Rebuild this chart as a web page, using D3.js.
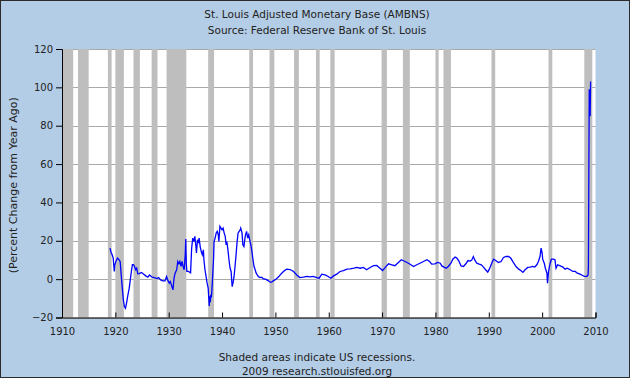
<!DOCTYPE html>
<html>
<head>
<meta charset="utf-8">
<script src="https://cdn.jsdelivr.net/npm/d3@7"></script>
<style>
body { margin: 0; }
text { font-family: "DejaVu Sans", Verdana, sans-serif; fill: #222; }
</style>
</head>
<body>
<svg id="chart"></svg>
<script>
// recession periods (decimal years)
var recStart = [1910.0, 1913.0, 1918.6, 1920.0, 1923.4, 1926.8, 1929.6, 1937.4, 1945.1, 1948.9, 1953.5, 1957.6, 1960.3, 1969.9, 1973.9, 1980.0, 1981.5, 1990.5, 2001.2, 2007.9];
var recEnd   = [1912.1, 1915.0, 1919.3, 1921.6, 1924.6, 1927.9, 1933.3, 1938.5, 1945.8, 1949.8, 1954.4, 1958.3, 1961.1, 1970.9, 1975.2, 1980.6, 1982.9, 1991.2, 2001.9, 2009.4];

// AMBNS, percent change from year ago
var years = [1919.0, 1919.2, 1919.4, 1919.6, 1919.8, 1919.9, 1920.1, 1920.4, 1920.6, 1920.9,
  1921.1, 1921.3, 1921.5, 1921.7, 1921.9, 1922.1, 1922.3, 1922.6, 1922.8, 1923.0,
  1923.2, 1923.4, 1923.6, 1923.8, 1924.0, 1924.2, 1924.5, 1924.9, 1925.2, 1925.7,
  1926.1, 1926.4, 1926.9, 1927.3, 1927.8, 1928.1, 1928.5, 1928.9, 1929.3, 1929.6,
  1929.8, 1930.1, 1930.3, 1930.5, 1930.8, 1931.0, 1931.2, 1931.5, 1931.7, 1931.9,
  1932.1, 1932.3, 1932.5, 1932.7, 1932.9, 1933.1, 1933.2, 1933.3, 1933.4, 1933.7,
  1934.1, 1934.3, 1934.5, 1934.7, 1934.9, 1935.1, 1935.2, 1935.4, 1935.6, 1935.7,
  1935.9, 1936.1, 1936.3, 1936.5, 1936.6, 1936.8, 1937.0, 1937.2, 1937.4, 1937.6,
  1937.7, 1937.8, 1937.9, 1938.0, 1938.1, 1938.2, 1938.4, 1938.5, 1938.7, 1938.9,
  1939.1, 1939.3, 1939.4, 1939.6, 1939.8, 1940.0, 1940.2, 1940.4, 1940.6, 1940.75,
  1940.9, 1941.1, 1941.3, 1941.5, 1941.7, 1941.8, 1941.9, 1942.1, 1942.25, 1942.4,
  1942.6, 1942.8, 1943.0, 1943.2, 1943.4, 1943.5, 1943.75, 1943.9, 1944.1, 1944.3,
  1944.4, 1944.6, 1944.8, 1945.0, 1945.25, 1945.4, 1945.6, 1945.8, 1946.0, 1946.2,
  1946.4, 1946.6, 1946.8, 1947.1, 1947.4, 1947.7, 1948.1, 1948.4, 1948.7, 1949.0,
  1949.3, 1949.6, 1949.9, 1950.2, 1950.6, 1950.9, 1951.5, 1952.1, 1952.75, 1953.4,
  1954.0, 1954.6, 1955.25, 1955.9, 1956.5, 1957.1, 1957.75, 1958.2, 1958.7, 1959.3,
  1959.9, 1960.4, 1960.9, 1961.5, 1962.1, 1962.75, 1963.4, 1964.0, 1964.75, 1965.25,
  1965.9, 1966.5, 1967.1, 1967.75, 1968.4, 1969.0, 1969.6, 1970.1, 1970.6, 1971.2,
  1971.8, 1972.4, 1973.1, 1973.6, 1974.0, 1974.6, 1975.25, 1975.9, 1976.5, 1977.1,
  1977.75, 1978.4, 1978.9, 1979.3, 1979.9, 1980.4, 1980.9, 1981.2, 1981.6, 1982.0,
  1982.4, 1982.9, 1983.25, 1983.7, 1984.0, 1984.4, 1984.8, 1985.25, 1985.7, 1986.1,
  1986.5, 1986.8, 1987.1, 1987.4, 1987.75, 1988.2, 1988.6, 1989.0, 1989.4, 1989.8,
  1990.1, 1990.6, 1990.9, 1991.3, 1991.8, 1992.3, 1992.75, 1993.25, 1993.7, 1994.1,
  1994.6, 1995.1, 1995.6, 1996.0, 1996.4, 1996.8, 1997.3, 1997.75, 1998.2, 1998.6,
  1999.0, 1999.3, 1999.6, 1999.8, 2000.0, 2000.1, 2000.4, 2000.6, 2000.9, 2001.0,
  2001.2, 2001.5, 2001.75, 2002.1, 2002.4, 2002.6, 2002.9, 2003.4, 2003.9, 2004.3,
  2004.7, 2005.25, 2005.75, 2006.2, 2006.6, 2007.1, 2007.6, 2007.9, 2008.4, 2008.6,
  2008.67, 2008.75, 2008.83, 2008.92, 2009.0, 2009.08];
var values = [16.2, 13.9, 12.7, 11.0, 4.0, 7.5, 9.2, 11.0, 10.4, 9.2,
  2.2, -4.7, -10.8, -14.3, -15.2, -12.5, -9.1, -4.7, -0.4, 4.0,
  7.5, 7.5, 6.6, 4.9, 5.7, 2.8, 2.9, 3.5, 2.8, 1.7,
  1.0, 2.2, 1.0, 0.8, 0.3, 0.8, -0.4, -0.9, -0.9, 1.4,
  -0.4, -2.1, -1.2, -3.0, -5.6, 0.5, 3.1, 4.9, 9.2, 8.0,
  9.2, 6.6, 9.2, 6.6, 4.9, 12.7, 20.9, 8.0, 4.0, 4.0,
  3.3, 16.0, 21.4, 19.6, 22.3, 17.0, 13.6, 20.5, 18.8, 21.4,
  17.0, 14.4, 12.7, 15.3, 10.1, 4.9, 1.4, -2.1, -4.7, -14.0,
  -9.0, -12.0, -8.2, -9.5, -5.6, -0.4, 10.1, 19.6, 21.4, 24.0,
  24.9, 23.1, 19.6, 27.5, 26.6, 25.7, 26.6, 24.0, 22.3, 17.9,
  19.6, 15.3, 10.1, 5.7, 4.0, -0.4, -3.9, -1.3, 1.4, 5.7,
  11.8, 18.8, 24.0, 24.9, 25.7, 26.6, 24.0, 17.9, 17.0, 21.4,
  23.1, 24.9, 21.4, 23.1, 19.6, 17.9, 14.4, 10.1, 6.6, 4.9,
  3.1, 2.2, 1.4, 0.8, 1.0, 0.3, 0.0, -0.4, -0.9, -1.6,
  -1.6, -0.9, -0.4, 0.2, 1.2, 2.2, 4.0, 5.2, 5.0, 4.0,
  2.2, 0.8, 1.0, 1.4, 1.2, 1.4, 0.8, 0.5, 2.6, 2.2,
  1.4, 0.5, 1.7, 2.6, 4.0, 4.5, 5.2, 5.4, 5.7, 6.1,
  5.7, 6.1, 4.9, 6.1, 7.0, 7.1, 5.7, 4.5, 6.1, 8.0,
  7.5, 7.0, 8.8, 10.1, 9.6, 8.8, 7.8, 6.6, 7.5, 8.3,
  9.2, 10.1, 9.2, 7.8, 8.0, 8.7, 8.3, 6.9, 6.3, 5.7,
  6.6, 8.3, 10.4, 11.5, 11.0, 9.4, 6.9, 6.6, 8.0, 9.7,
  9.4, 9.9, 11.8, 9.9, 8.3, 7.8, 7.5, 6.3, 4.9, 3.7,
  5.2, 8.7, 10.4, 9.7, 8.7, 9.2, 11.3, 11.8, 11.8, 11.0,
  8.7, 6.6, 5.2, 4.5, 3.5, 4.9, 6.1, 6.3, 6.6, 6.3,
  7.5, 9.2, 11.8, 16.2, 13.6, 10.4, 8.3, 5.7, 3.1, -2.1,
  4.0, 8.3, 10.4, 10.4, 10.1, 5.7, 7.5, 6.9, 6.3, 5.2,
  5.7, 4.9, 4.0, 4.0, 3.1, 2.6, 1.9, 1.4, 1.4, 2.2,
  6.0, 53.0, 99.0, 88.0, 85.0, 103.0];

var yTicks = [-20, 0, 20, 40, 60, 80, 100, 120];
var xTicks = [1910, 1920, 1930, 1940, 1950, 1960, 1970, 1980, 1990, 2000, 2010];

var W = 630, H = 378;
var margin = { top: 49, right: 34.5, bottom: 60.5, left: 62 },
    width = W - margin.left - margin.right,
    height = H - margin.top - margin.bottom;

var root = d3.select("#chart")
    .attr("width", W)
    .attr("height", H);

root.append("rect")
    .attr("x", 0.5).attr("y", 0.5)
    .attr("width", W - 1).attr("height", H - 1)
    .attr("fill", "#b4cde6")
    .attr("stroke", "#2b2b2b");

root.append("text")
    .attr("x", 317).attr("y", 18)
    .attr("text-anchor", "middle")
    .attr("font-size", "10.5px")
    .text("St. Louis Adjusted Monetary Base (AMBNS)");
root.append("text")
    .attr("x", 317).attr("y", 34)
    .attr("text-anchor", "middle")
    .attr("font-size", "10.5px")
    .text("Source: Federal Reserve Bank of St. Louis");

var svg = root.append("g")
    .attr("transform", "translate(" + margin.left + "," + margin.top + ")");

var x = d3.scaleLinear().domain([1910, 2010]).range([0, width]);
var y = d3.scaleLinear().domain([-20, 120]).range([height, 0]);

svg.append("rect")
    .attr("width", width).attr("height", height)
    .attr("fill", "#fff");

// gridlines
svg.selectAll(".grid")
    .data(yTicks)
    .enter().append("line")
    .attr("x1", 0).attr("x2", width)
    .attr("y1", function (d) { return Math.round(y(d)) + 0.5; })
    .attr("y2", function (d) { return Math.round(y(d)) + 0.5; })
    .attr("stroke", "#a9a9a9");

// recession shading
svg.selectAll(".rec")
    .data(recStart)
    .enter().append("rect")
    .attr("x", function (d) { return x(d); })
    .attr("width", function (d, i) { return x(recEnd[i]) - x(d); })
    .attr("y", 0)
    .attr("height", height)
    .attr("fill", "#bebebe");

var line = d3.line()
    .x(function (d) { return x(d); })
    .y(function (d, i) { return y(values[i]); });

svg.append("path")
    .datum(years)
    .attr("d", line)
    .attr("fill", "none")
    .attr("stroke", "#0000ff")
    .attr("stroke-width", 1.3);

// y axis, ticks outside
var yAxis = svg.append("g")
    .call(d3.axisLeft(y).tickValues(yTicks).tickSize(6).tickPadding(3)
        .tickFormat(function (d) { return d < 0 ? "\u221220" : d; }));
yAxis.selectAll("text").attr("font-size", "10px").attr("font-family", "DejaVu Sans");

// x axis, ticks inside
var xAxis = svg.append("g")
    .attr("transform", "translate(0," + height + ")")
    .call(d3.axisBottom(x).tickValues(xTicks).tickSize(-5).tickPadding(10)
        .tickFormat(d3.format("d")));
xAxis.selectAll("text").attr("font-size", "10px").attr("font-family", "DejaVu Sans");
svg.selectAll(".domain").attr("stroke", "#000");

root.append("text")
    .attr("transform", "translate(17," + (margin.top + height / 2 + 2) + ") rotate(-90)")
    .attr("text-anchor", "middle")
    .attr("font-size", "11px")
    .text("(Percent Change from Year Ago)");

root.append("text")
    .attr("x", 317).attr("y", 361)
    .attr("text-anchor", "middle")
    .attr("font-size", "10.5px")
    .text("Shaded areas indicate US recessions.");
root.append("text")
    .attr("x", 317).attr("y", 375)
    .attr("text-anchor", "middle")
    .attr("font-size", "10.5px")
    .text("2009 research.stlouisfed.org");
</script>
</body>
</html>
